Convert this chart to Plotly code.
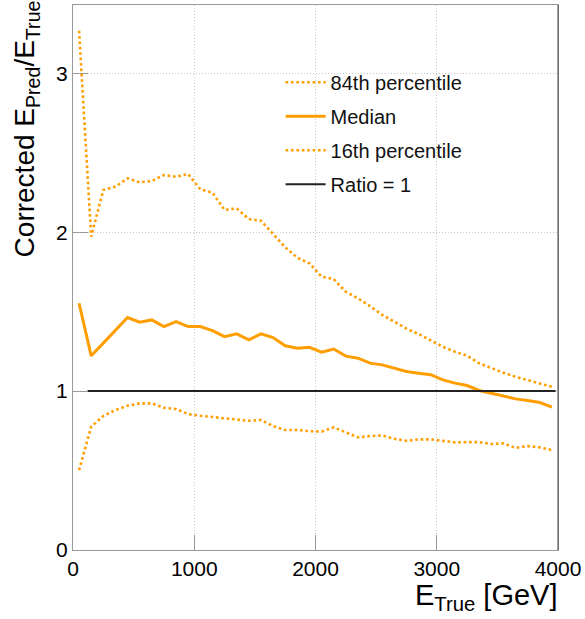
import plotly.graph_objects as go

# ---- data ----
e_true = [50, 150, 250, 350, 450, 550, 650, 750, 850, 950,
          1050, 1150, 1250, 1350, 1450, 1550, 1650, 1750, 1850, 1950,
          2050, 2150, 2250, 2350, 2450, 2550, 2650, 2750, 2850, 2950,
          3050, 3150, 3250, 3350, 3450, 3550, 3650, 3750, 3850, 3950]

p84 = [3.268, 1.972, 2.266, 2.287, 2.339, 2.314, 2.322, 2.360, 2.349, 2.366,
       2.270, 2.249, 2.140, 2.150, 2.083, 2.072, 1.989, 1.905, 1.840, 1.804,
       1.720, 1.705, 1.625, 1.584, 1.535, 1.479, 1.437, 1.393, 1.359, 1.321,
       1.279, 1.248, 1.223, 1.175, 1.143, 1.116, 1.090, 1.070, 1.049, 1.027]

median = [1.553, 1.222, 1.302, 1.383, 1.463, 1.434, 1.448, 1.406, 1.438, 1.406,
          1.406, 1.381, 1.343, 1.360, 1.323, 1.360, 1.337, 1.285, 1.270, 1.276,
          1.245, 1.265, 1.220, 1.207, 1.176, 1.165, 1.145, 1.123, 1.113, 1.103,
          1.071, 1.050, 1.035, 1.004, 0.987, 0.970, 0.951, 0.941, 0.928, 0.899]

p16 = [0.503, 0.776, 0.843, 0.881, 0.908, 0.923, 0.923, 0.895, 0.887, 0.855,
       0.845, 0.837, 0.826, 0.822, 0.813, 0.818, 0.780, 0.755, 0.755, 0.748,
       0.745, 0.772, 0.738, 0.709, 0.717, 0.721, 0.700, 0.687, 0.696, 0.696,
       0.687, 0.677, 0.679, 0.679, 0.667, 0.671, 0.643, 0.654, 0.646, 0.629]

ratio_x = [120, 3980]
ratio_y = [1, 1]

x_ticks = [0, 1000, 2000, 3000, 4000]
y_ticks = [0, 1, 2, 3]

ORANGE = "#ff9e00"
FONT = "Liberation Sans, Arial, Helvetica, sans-serif"

fig = go.Figure()
fig.add_trace(go.Scatter(x=e_true, y=p84, mode="lines", name="84th percentile",
                         line=dict(color=ORANGE, width=2.6, dash="2.6px,2.8px"),
                         legendgroup="a"))
fig.add_trace(go.Scatter(x=e_true, y=median, mode="lines", name="Median",
                         line=dict(color=ORANGE, width=3),
                         legendgroup="b"))
fig.add_trace(go.Scatter(x=e_true, y=p16, mode="lines", name="16th percentile",
                         line=dict(color=ORANGE, width=2.6, dash="2.6px,2.8px"),
                         legendgroup="c"))
fig.add_trace(go.Scatter(x=ratio_x, y=ratio_y, mode="lines", name="Ratio = 1",
                         line=dict(color="#222222", width=2),
                         legendgroup="d"))

axis_common = dict(
    showline=True, linecolor="#9a9a9a", linewidth=1, mirror=True,
    ticks="inside", ticklen=15, tickcolor="#9a9a9a", tickwidth=1,
    showgrid=True, gridcolor="#c8c8c8", gridwidth=1, griddash="1px,2px",
    zeroline=False,
    tickfont=dict(family=FONT, size=21, color="black"),
)

fig.update_layout(
    width=585, height=619,
    margin=dict(l=73, r=27, t=5, b=69),
    paper_bgcolor="white", plot_bgcolor="white",
    font=dict(family=FONT, color="black"),
    xaxis=dict(range=[0, 4000], tickvals=x_ticks, ticktext=[str(v) for v in x_ticks],
               **axis_common),
    yaxis=dict(range=[0, 3.43], tickvals=y_ticks, ticktext=[str(v) for v in y_ticks],
               **axis_common),
    showlegend=True,
    legend=dict(x=0.428, y=0.894, xanchor="left", yanchor="top",
                bgcolor="rgba(0,0,0,0)", borderwidth=0,
                font=dict(family=FONT, size=20, color="#111111"),
                tracegroupgap=5, itemwidth=40),
    annotations=[
        dict(text="E<sub>True</sub> [GeV]", xref="paper", yref="paper",
             x=1.005, y=-0.05, xanchor="right", yanchor="top", showarrow=False,
             font=dict(family=FONT, size=29, color="black")),
        dict(text="Corrected E<sub>Pred</sub>/E<sub>True</sub>", xref="paper", yref="paper",
             x=-0.095, y=0.534, xanchor="center", yanchor="bottom", showarrow=False,
             textangle=-90, font=dict(family=FONT, size=28, color="black")),
    ],
    shapes=[
        dict(type="line", xref="paper", yref="paper", x0=1, x1=1, y0=0, y1=1,
             line=dict(color="#444444", width=1)),
    ],
)

fig.write_html("out.html")
